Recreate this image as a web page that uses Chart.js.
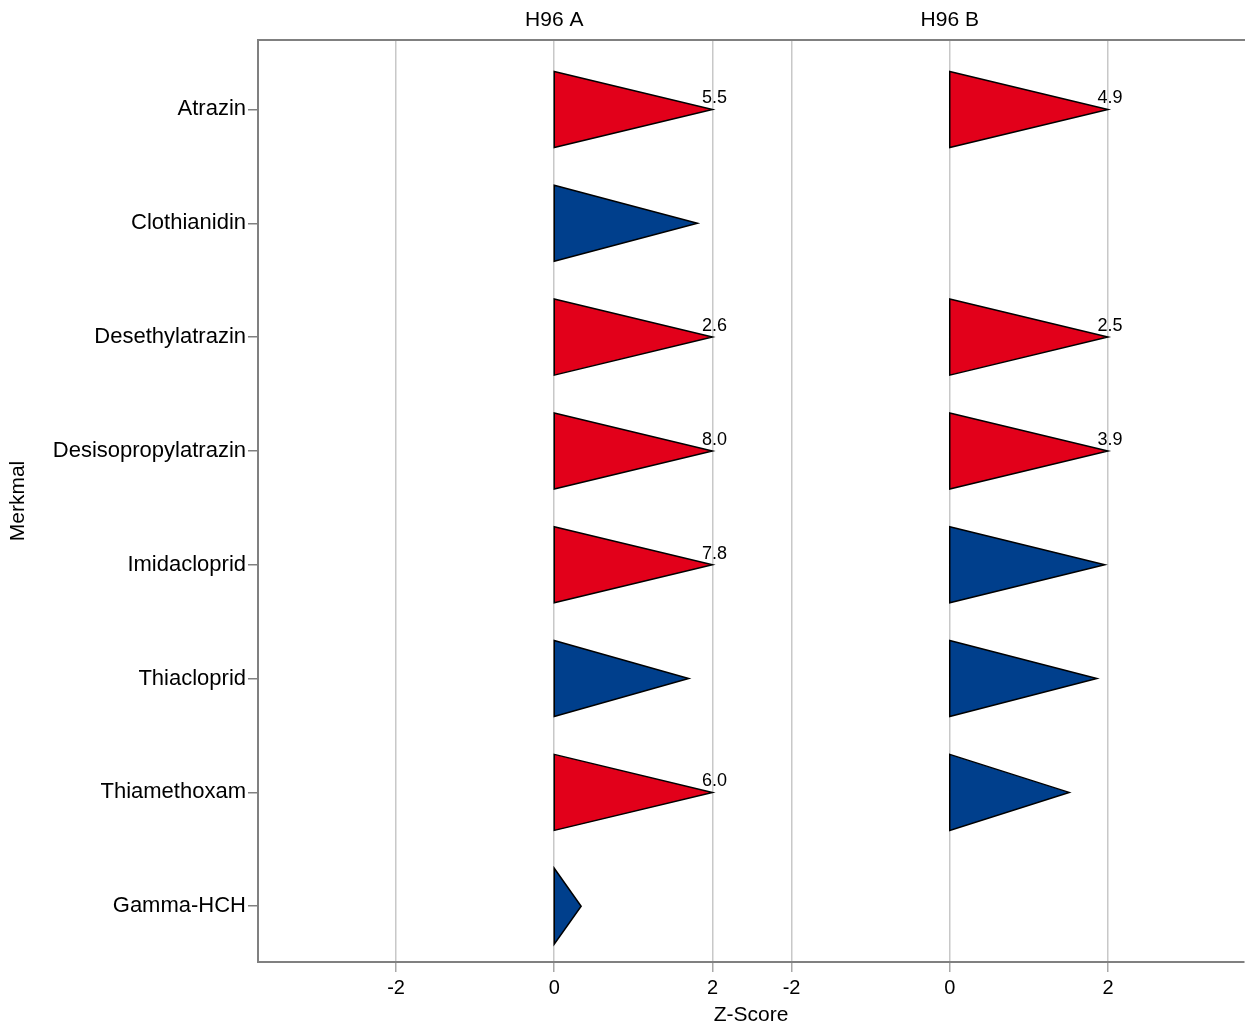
<!DOCTYPE html>
<html>
<head>
<meta charset="utf-8">
<script src="https://cdn.jsdelivr.net/npm/chart.js@4.4.0/dist/chart.umd.min.js"></script>
<style>
html, body { margin: 0; padding: 0; background: #fff; }
</style>
</head>
<body>
<canvas id="c" width="1246" height="1031"></canvas>
<script>
// data
var merkmale = ["Atrazin", "Clothianidin", "Desethylatrazin", "Desisopropylatrazin",
                "Imidacloprid", "Thiacloprid", "Thiamethoxam", "Gamma-HCH"];
var panels = ["H96 A", "H96 B"];
var h96a = [5.5, 1.81, 2.6, 8.0, 7.8, 1.70, 6.0, 0.34];
var h96b = [4.9, null, 2.5, 3.9, 1.96, 1.86, 1.51, null];
var xTicks = [-2, 0, 2];

// layout of the two panels on one shared x scale
var panelOffset = [0, 5];
var cap = 2;          // triangles stop at 2, bigger values get a label
var halfH = 0.334;    // half height of a triangle in row units
var red = '#e2001a';
var blue = '#003f8c';
var frame = '#808080';
var fam = '"Liberation Sans", Arial, sans-serif';

Chart.defaults.font.family = fam;
Chart.defaults.font.size = 21;
Chart.defaults.color = '#000';

function bottomTicks(scale) {
    var t = [];
    panelOffset.forEach(function (off) {
        xTicks.forEach(function (v) { t.push({ value: off + v }); });
    });
    scale.ticks = t;
}
function bottomLabel(value) {
    var off = value > 2.5 ? panelOffset[1] : panelOffset[0];
    return String(Math.round(value - off));
}

var trianglePlugin = {
    id: 'triangles',
    afterDatasetsDraw: function (chart) {
        var ctx = chart.ctx;
        var xs = chart.scales.x;
        var ys = chart.scales.y;
        ctx.save();
        [h96a, h96b].forEach(function (series, p) {
            series.forEach(function (v, i) {
                if (v === null) return;
                var x0 = xs.getPixelForValue(panelOffset[p]);
                var x1 = xs.getPixelForValue(panelOffset[p] + Math.min(v, cap));
                var yTop = ys.getPixelForValue(i - halfH);
                var yMid = ys.getPixelForValue(i);
                var yBot = ys.getPixelForValue(i + halfH);
                ctx.beginPath();
                ctx.moveTo(x0, yTop);
                ctx.lineTo(x1, yMid);
                ctx.lineTo(x0, yBot);
                ctx.closePath();
                ctx.fillStyle = v > cap ? red : blue;
                ctx.fill();
                ctx.lineWidth = 1.5;
                ctx.strokeStyle = '#000';
                ctx.stroke();
                if (v > cap) {
                    ctx.fillStyle = '#000';
                    ctx.font = '18px ' + fam;
                    ctx.textAlign = 'center';
                    ctx.textBaseline = 'alphabetic';
                    ctx.fillText(v.toFixed(1), x1 + 2, yMid - 6);
                }
            });
        });
        ctx.restore();
    }
};

new Chart(document.getElementById('c'), {
    type: 'scatter',
    data: { datasets: [] },
    options: {
        responsive: false,
        devicePixelRatio: 1,
        animation: false,
        layout: { padding: { left: 0, right: 2, top: 0, bottom: 0 } },
        plugins: { legend: { display: false }, tooltip: { enabled: false } },
        scales: {
            x: {
                type: 'linear',
                position: 'bottom',
                min: -3.745,
                max: 8.72,
                afterBuildTicks: bottomTicks,
                afterFit: function (s) { s.height = 69; },
                ticks: { callback: bottomLabel, padding: 4, maxRotation: 0, font: { size: 20 } },
                grid: { color: '#c8c8c8', lineWidth: 1.5, tickLength: 10, tickColor: '#a8a8a8' },
                border: { color: frame, width: 2 },
                title: { display: true, text: 'Z-Score', padding: { top: 0, bottom: 3 } }
            },
            x2: {
                type: 'linear',
                position: 'top',
                min: -3.745,
                max: 8.72,
                afterBuildTicks: function (s) {
                    s.ticks = panelOffset.map(function (o) { return { value: o }; });
                },
                afterFit: function (s) { s.height = 40; },
                ticks: {
                    callback: function (value) { return panels[panelOffset.indexOf(value)]; },
                    padding: 7,
                    maxRotation: 0
                },
                grid: { display: false, drawTicks: false },
                border: { color: frame, width: 2 }
            },
            y: {
                type: 'linear',
                reverse: true,
                min: -0.61,
                max: 7.49,
                afterBuildTicks: function (s) {
                    s.ticks = merkmale.map(function (m, i) { return { value: i }; });
                },
                afterFit: function (s) { s.width = 258; },
                ticks: {
                    callback: function (value) { return merkmale[value]; },
                    padding: 2,
                    font: { size: 22 }
                },
                grid: { drawOnChartArea: false, tickLength: 10, tickColor: frame, lineWidth: 1.5 },
                border: { color: frame, width: 2 },
                title: { display: true, text: 'Merkmal', padding: { top: 6, bottom: 0 } }
            }
        }
    },
    plugins: [trianglePlugin]
});
</script>
</body>
</html>
